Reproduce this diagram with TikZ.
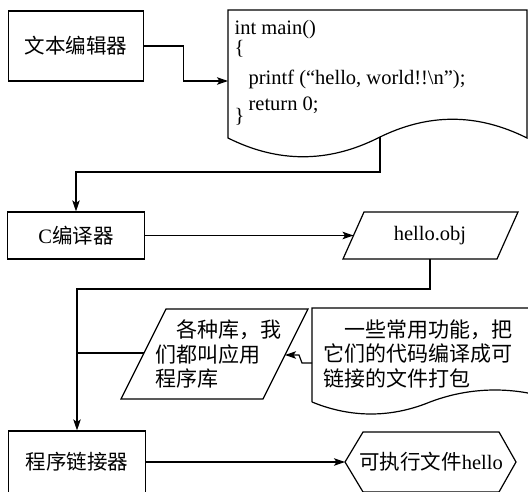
\documentclass[tikz,border=0pt]{standalone}
\usepackage{fontspec}
\setmainfont{Liberation Serif}
\newfontfamily\cjk{Noto Sans CJK SC}
\usetikzlibrary{arrows.meta}
\begin{document}
\begin{tikzpicture}[x=1pt,y=-1pt,
  line width=1.2pt,
  arr/.style={-{Stealth[length=11pt,width=7.5pt,inset=2.5pt]}},
  box/.style={draw,inner sep=0pt,font=\fontsize{20.5}{24.5}\selectfont},
  txt/.style={inner sep=0pt,font=\fontsize{20.5}{24.5}\selectfont},
  cjktxt/.style={inner sep=0pt,align=left,anchor=west,font=\fontsize{21}{24.5}\selectfont\cjk},
  code/.style={inner sep=0pt,anchor=base west,font=\fontsize{20.5}{24}\selectfont}]
\useasboundingbox (0,0) rectangle (528,492);
\clip (0,0) rectangle (528,492);

% text editor box
\node[box,minimum width=135pt,minimum height=70pt] (edit) at (76,46) {\cjk 文本编辑器};

% source document
\draw (228,138) -- (228,10) -- (527,10) -- (527,138)
  .. controls (477,113) and (428,113) .. (378,138)
  .. controls (328,163) and (278,163) .. (228,138) -- cycle;
\coordinate (d1in) at (228,81);
\coordinate (d1out) at (380,137);
\node[code] (c1) at (234,35) {int main()};
\node[code] (c2) at (234,55) {\{};
\node[code] (c3) at (248,85) {printf (“hello, world!!\textbackslash n”);};
\node[code] (c4) at (248,111) {return 0;};
\node[code] (c5) at (234,123) {\}};

\draw[arr] (edit.east) -- ++(39,0) |- (d1in);

% C compiler
\node[box,minimum width=137pt,minimum height=47pt] (cc) at (76,235.5) {C{\cjk 编译器}};
\draw[arr] (d1out) -- (380,172) -| (cc.north);

% hello.obj
\draw (343,259) -- (364,212) -- (518,212) -- (497,259) -- cycle;
\node[txt] (obj) at (430,236) {hello.obj};
\coordinate (objin) at (353.5,235.5);
\coordinate (objout) at (430,259);
\draw[arr] (cc.east) -- (objin);

% linker
\node[box,minimum width=137pt,minimum height=62pt] (link) at (77,462) {\cjk 程序链接器};
\draw[arr] (objout) -- (430,289) -| (link.north);

% library parallelogram
\draw (121,399) -- (166,309) -- (308,309) -- (263,399) -- cycle;
\node[cjktxt] (lib) at (155,354) {\hspace*{1em}各种库，我\\们都叫应用\\程序库};
\coordinate (libL) at (144,353);
\coordinate (libR) at (285,355);
\draw (libL) -- (libL -| link.north);

% note document
\draw (312,402) -- (312,308) -- (560,308) -- (560,402)
  .. controls (518,386) and (472,386) .. (430,402)
  .. controls (391,418) and (351,418) .. (312,402);
\node[cjktxt] (note) at (323,354) {\hspace*{1em}一些常用功能，把\\它们的代码编译成可\\链接的文件打包};
\coordinate (d2out) at (312,363);
\draw[arr] (d2out) -- ++(-10,0) -- ++(-3,-8) -- (libR);

% executable hexagon
\draw (345,462) -- (363,432) -- (499,432) -- (516,462) -- (499,492) -- (363,492) -- cycle;
\node[txt] (exe) at (431,462) {{\cjk 可执行文件}hello};
\coordinate (exein) at (345,462);
\draw[arr] (link.east) -- (exein);
\end{tikzpicture}
\end{document}
